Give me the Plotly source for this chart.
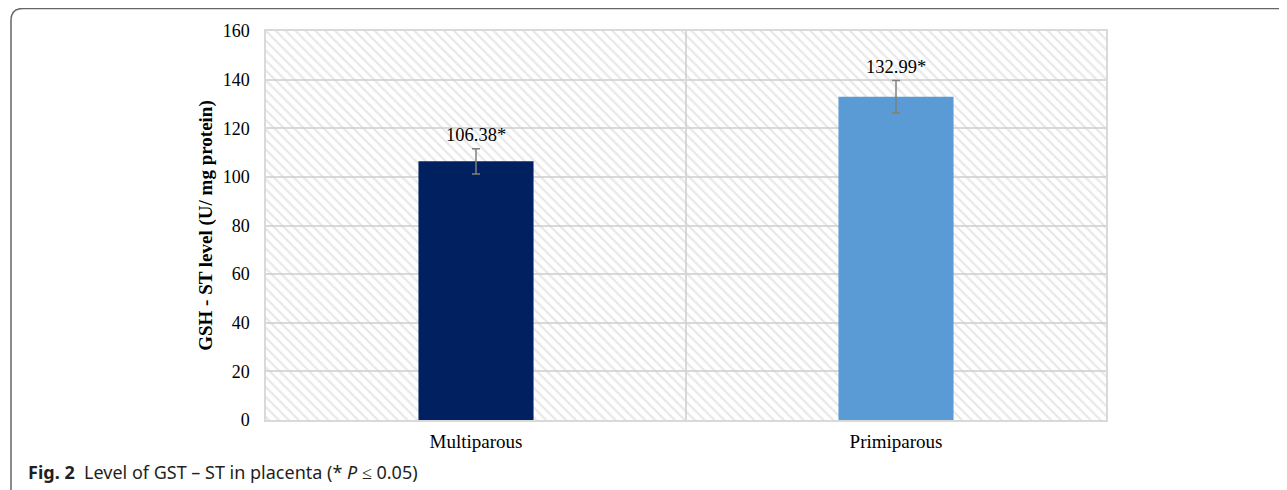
import plotly.graph_objects as go

categories = ["Multiparous", "Primiparous"]
values = [106.38, 132.99]
errors = [5.2, 6.6]
labels = ["106.38*", "132.99*"]
colors = ["#002060", "#5b9bd5"]
y_max = 160
y_ticks = [0, 20, 40, 60, 80, 100, 120, 140, 160]

# page body has an 8px margin, so the figure sits at (8, 8)
OFF = 8
W, H = 1287 - OFF, 490 - OFF
L, T = 266 - OFF, 31 - OFF
pw, ph = 840, 389
R, B = W - L - pw, H - T - ph

xpos = list(range(len(categories)))
grid = "#d9d9d9"

fig = go.Figure()
# hatched plot background
fig.add_trace(go.Bar(
    x=[(len(categories) - 1) / 2], y=[y_max], width=[len(categories)],
    marker=dict(color="rgba(0,0,0,0)", line=dict(width=0),
                pattern=dict(shape="\\", fgcolor="#d0d0d0", size=7, solidity=0.32)),
    hoverinfo="skip", showlegend=False))
fig.add_trace(go.Bar(
    x=xpos, y=values, width=0.274,
    marker=dict(color=colors, line=dict(width=0)),
    error_y=dict(type="data", array=errors, color="#808080", thickness=1.5, width=4),
    showlegend=False))

for xi, v, e, t in zip(xpos, values, errors, labels):
    fig.add_annotation(x=xi, y=v + e, text=t, showarrow=False, yanchor="bottom", yshift=2,
                       font=dict(family="Liberation Serif", size=18.5, color="#000"))

# outer rounded frame (page coords -> paper coords)
def px(xp):
    return (xp - OFF - L) / pw

def py(yp):
    return 1 - (yp - OFF - T) / ph

x0, x1 = px(11), px(1300)
yt, yb = py(8.5), py(500)
rx, ry = 12 / pw, 12 / ph
fig.add_shape(type="path", xref="paper", yref="paper",
              path=f"M {x0},{yb} L {x0},{yt - ry} Q {x0},{yt} {x0 + rx},{yt} L {x1},{yt}",
              line=dict(color="#666666", width=1.5))

fig.add_annotation(xref="paper", yref="paper", x=px(26), y=py(472),
                   xanchor="left", yanchor="middle", showarrow=False,
                   text="<b>Fig. 2</b>  Level of GST – ST in placenta (* <i>P</i> ≤ 0.05)",
                   font=dict(family="Noto Sans", size=18, color="#231f20"))

fig.update_layout(
    width=W, height=H, margin=dict(l=L, r=R, t=T, b=B, pad=0),
    paper_bgcolor="white", plot_bgcolor="white", barmode="overlay",
    xaxis=dict(range=[-0.5, len(categories) - 0.5], tickmode="array", tickvals=xpos,
               ticktext=categories, showgrid=False, zeroline=False,
               showline=True, linecolor=grid, linewidth=1.5, mirror=True,
               ticks="", ticklabelstandoff=3,
               tickfont=dict(family="Liberation Serif", size=19, color="#000"),
               minor=dict(tickmode="array", tickvals=[x + 0.5 for x in xpos[:-1]],
                          showgrid=True, gridcolor=grid, gridwidth=1.5, ticks="")),
    yaxis=dict(range=[0, y_max], tickmode="array", tickvals=y_ticks,
               showgrid=True, gridcolor=grid, gridwidth=1.5, zeroline=False,
               showline=True, linecolor=grid, linewidth=1.5, mirror=True,
               ticks="", ticklabelstandoff=11,
               tickfont=dict(family="Liberation Serif", size=18, color="#000"),
               title=dict(text="<b>GSH - ST level (U/ mg protein)</b>", standoff=5,
                          font=dict(family="Liberation Serif", size=19, color="#000"))),
)

fig.write_html("out.html")
